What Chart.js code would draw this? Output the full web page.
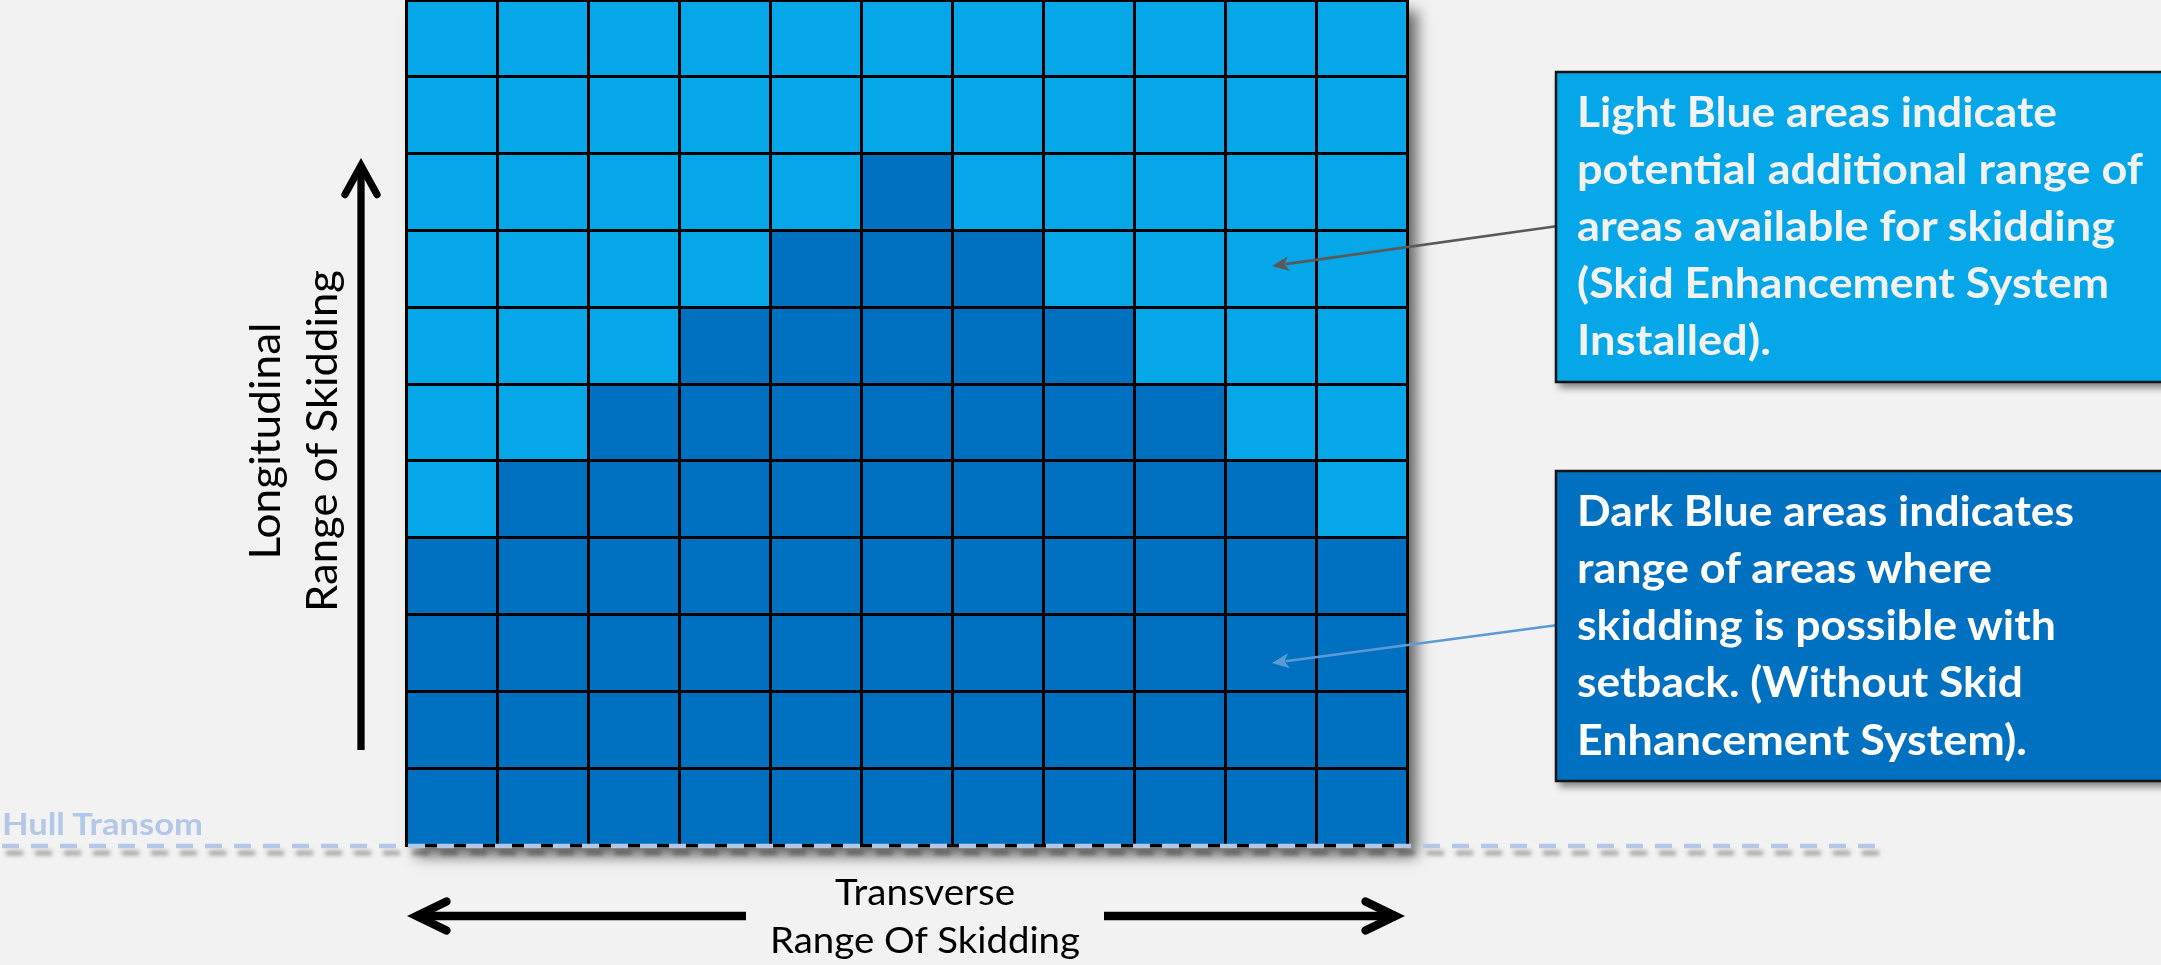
<!DOCTYPE html>
<html>
<head>
<meta charset="utf-8">
<title>Range of Skidding</title>
<script src="https://cdn.jsdelivr.net/npm/chart.js@4.4.1/dist/chart.umd.min.js"></script>
<style>
  html, body { margin: 0; padding: 0; background: #F2F2F2; overflow: hidden; }
  #wrap { position: relative; width: 2161px; height: 965px; }
  #c { position: absolute; left: 0; top: 0; }
  #ov { position: absolute; left: 0; top: 0; pointer-events: none; }
</style>
</head>
<body>
<div id="wrap">
  <canvas id="c" width="2161" height="965"></canvas>
  <svg id="ov" xmlns="http://www.w3.org/2000/svg" width="2161" height="965"></svg>
</div>
<script>
// ---------------- DATA ----------------
// Transverse cell positions (columns, left to right)
const transverseCells = ['T1', 'T2', 'T3', 'T4', 'T5', 'T6', 'T7', 'T8', 'T9', 'T10', 'T11'];
// Longitudinal cell boundaries (rows counted from hull transom upward)
const longitudinalTicks = [0, 1, 2, 3, 4, 5, 6, 7, 8, 9, 10, 11];
// Number of cells per column where skidding is possible with setback (dark blue)
const setbackCells = [4, 5, 6, 7, 8, 9, 8, 7, 6, 5, 4];
// Number of additional cells per column available with Skid Enhancement System (light blue)
const sesExtraCells = [7, 6, 5, 4, 3, 2, 3, 4, 5, 6, 7];

// Texts
const lightBlueNote = ['Light Blue areas indicate', 'potential additional range of', 'areas available for skidding', '(Skid Enhancement System', 'Installed).'];
const darkBlueNote = ['Dark Blue areas indicates', 'range of areas where', 'skidding is possible with', 'setback. (Without Skid', 'Enhancement System).'];
const longitudinalLabel = ['Longitudinal', 'Range of Skidding'];
const transverseLabel = ['Transverse', 'Range Of Skidding'];
const hullLabel = 'Hull Transom';

// ---------------- STYLE ----------------
const DARK = '#0070C0';
const LIGHT = '#05A7E8';
const HULL = '#B4C7E7';

// ---------------- DECORATION PLUGIN ----------------
function chevronArrow(ctx, x1, y1, tx, ty, w, head, spread) {
  const ang = Math.atan2(ty - y1, tx - x1);
  const ux = Math.cos(ang), uy = Math.sin(ang), px = -uy, py = ux;
  const half = Math.atan2(spread, head);
  const inset = (w / 2) / Math.sin(half);
  const vx = tx - ux * inset, vy = ty - uy * inset;
  ctx.save();
  ctx.strokeStyle = '#000';
  ctx.lineWidth = w;
  ctx.lineCap = 'butt';
  ctx.beginPath();
  ctx.moveTo(x1, y1);
  ctx.lineTo(vx, vy);
  ctx.stroke();
  ctx.lineCap = 'round';
  ctx.lineJoin = 'miter';
  ctx.miterLimit = 10;
  ctx.beginPath();
  ctx.moveTo(vx - ux * head + px * spread, vy - uy * head + py * spread);
  ctx.lineTo(vx, vy);
  ctx.lineTo(vx - ux * head - px * spread, vy - uy * head - py * spread);
  ctx.stroke();
  ctx.restore();
}

function pointerArrow(ctx, x1, y1, tx, ty, color, w, hl, hw) {
  const ang = Math.atan2(ty - y1, tx - x1);
  const ux = Math.cos(ang), uy = Math.sin(ang), px = -uy, py = ux;
  ctx.save();
  ctx.strokeStyle = color;
  ctx.fillStyle = color;
  ctx.lineWidth = w;
  ctx.beginPath();
  ctx.moveTo(x1, y1);
  ctx.lineTo(tx - ux * hl * 0.8, ty - uy * hl * 0.8);
  ctx.stroke();
  ctx.beginPath();
  ctx.moveTo(tx, ty);
  ctx.lineTo(tx - ux * hl + px * hw, ty - uy * hl + py * hw);
  ctx.lineTo(tx - ux * hl * 0.75, ty - uy * hl * 0.75);
  ctx.lineTo(tx - ux * hl - px * hw, ty - uy * hl - py * hw);
  ctx.closePath();
  ctx.fill();
  ctx.restore();
}

function calloutBox(ctx, x, y, w, h, fill) {
  ctx.save();
  ctx.shadowColor = 'rgba(0,0,0,0.45)';
  ctx.shadowBlur = 7;
  ctx.shadowOffsetX = 3;
  ctx.shadowOffsetY = 6;
  ctx.fillStyle = fill;
  ctx.fillRect(x, y, w, h);
  ctx.restore();
  ctx.save();
  ctx.strokeStyle = '#141414';
  ctx.lineWidth = 2.5;
  ctx.strokeRect(x, y, w, h);
  ctx.restore();
}

const decorations = {
  id: 'decorations',
  beforeDatasetsDraw(chart) {
    const { ctx, chartArea: a } = chart;
    ctx.save();
    ctx.shadowColor = 'rgba(0,0,0,0.6)';
    ctx.shadowBlur = 14;
    ctx.shadowOffsetX = 10;
    ctx.shadowOffsetY = 11;
    ctx.fillStyle = DARK;
    ctx.fillRect(a.left, a.top, a.right - a.left, a.bottom - a.top);
    ctx.restore();
  },
  afterDraw(chart) {
    const { ctx, chartArea: a } = chart;
    // Hull transom dashed line
    ctx.save();
    ctx.strokeStyle = HULL;
    ctx.lineWidth = 4.3;
    ctx.setLineDash([17, 12]);
    ctx.shadowColor = 'rgba(0,0,0,0.35)';
    ctx.shadowBlur = 4;
    ctx.shadowOffsetX = 4;
    ctx.shadowOffsetY = 7;
    ctx.beginPath();
    ctx.moveTo(2, a.bottom + 1);
    ctx.lineTo(1880, a.bottom + 1);
    ctx.stroke();
    ctx.restore();

    // Longitudinal arrow (vertical)
    chevronArrow(ctx, 361, 750, 361, 158, 7.3, 29, 16);
    // Transverse arrows
    chevronArrow(ctx, 746, 916, 407, 916, 8.3, 30, 14.5);
    chevronArrow(ctx, 1104, 916, 1405, 916, 8.3, 30, 14.5);

    // Callout pointers
    pointerArrow(ctx, 1558, 226, 1272, 266, '#595959', 2.6, 17, 7.5);
    pointerArrow(ctx, 1558, 625, 1272, 663, '#5B9BD5', 2.6, 17, 7.5);

    // Callout boxes
    calloutBox(ctx, 1556, 72, 640, 310, LIGHT);
    calloutBox(ctx, 1556, 471, 640, 310, DARK);
  }
};

// ---------------- CHART ----------------
const ctx = document.getElementById('c').getContext('2d');
new Chart(ctx, {
  type: 'bar',
  data: {
    labels: transverseCells,
    datasets: [
      {
        label: 'Skidding possible with setback',
        data: setbackCells,
        backgroundColor: DARK,
        borderWidth: 0,
        barPercentage: 1,
        categoryPercentage: 1
      },
      {
        label: 'Additional range with Skid Enhancement System',
        data: sesExtraCells,
        backgroundColor: LIGHT,
        borderWidth: 0,
        barPercentage: 1,
        categoryPercentage: 1
      }
    ]
  },
  options: {
    responsive: false,
    devicePixelRatio: 1,
    animation: false,
    events: [],
    layout: { padding: { left: 406, right: 754, top: 0, bottom: 120 } },
    plugins: {
      legend: { display: false },
      tooltip: { enabled: false },
      title: { display: false }
    },
    scales: {
      x: {
        stacked: true,
        offset: true,
        z: 1,
        grid: { offset: true, color: '#000', lineWidth: 3, drawTicks: false, z: 1 },
        border: { display: true, color: '#000', width: 3, z: 1 },
        ticks: { display: false }
      },
      y: {
        stacked: true,
        min: longitudinalTicks[0],
        max: longitudinalTicks[longitudinalTicks.length - 1],
        z: 1,
        afterBuildTicks(scale) { scale.ticks = longitudinalTicks.map(v => ({ value: v })); },
        grid: { color: '#000', lineWidth: 3, drawTicks: false, z: 1 },
        border: { display: true, color: '#000', width: 3, z: 1 },
        ticks: { display: false, stepSize: 1 }
      }
    }
  },
  plugins: [decorations]
});

// ---------------- TEXT (real SVG text) ----------------
const NS = 'http://www.w3.org/2000/svg';
const ov = document.getElementById('ov');
function addText(str, o) {
  const t = document.createElementNS(NS, 'text');
  t.textContent = str;
  t.setAttribute('x', o.x || 0);
  t.setAttribute('y', o.y || 0);
  if (o.transform) t.setAttribute('transform', o.transform);
  t.setAttribute('font-family', 'Lato, "Open Sans", sans-serif');
  t.setAttribute('font-size', o.size);
  t.setAttribute('font-weight', o.weight || 400);
  t.setAttribute('fill', o.color);
  if (o.anchor) t.setAttribute('text-anchor', o.anchor);
  if (o.len) { t.setAttribute('textLength', o.len); t.setAttribute('lengthAdjust', 'spacingAndGlyphs'); }
  ov.appendChild(t);
  return t;
}

const lightLens = [480, 566, 538, 532, 194];
const lightBase = [127, 184, 241, 298, 355];
lightBlueNote.forEach((s, i) => addText(s, { x: 1577, y: lightBase[i], size: 42, weight: 700, color: '#F2F2F2', len: lightLens[i] }));

const darkLens = [497, 415, 479, 446, 450];
const darkBase = [526, 583, 640, 697, 755];
darkBlueNote.forEach((s, i) => addText(s, { x: 1577, y: darkBase[i], size: 42, weight: 700, color: '#FFFFFF', len: darkLens[i] }));

const longX = [280, 337];
const longLens = [237, 342];
longitudinalLabel.forEach((s, i) => addText(s, { transform: `translate(${longX[i]},441) rotate(-90)`, anchor: 'middle', size: 42, color: '#000', len: longLens[i] }));

const transBase = [905, 953];
const transLens = [180, 310];
transverseLabel.forEach((s, i) => addText(s, { x: 925, y: transBase[i], anchor: 'middle', size: 36, color: '#000', len: transLens[i] }));

addText(hullLabel, { x: 2, y: 835, size: 31, weight: 700, color: HULL, len: 201 });
</script>
</body>
</html>
